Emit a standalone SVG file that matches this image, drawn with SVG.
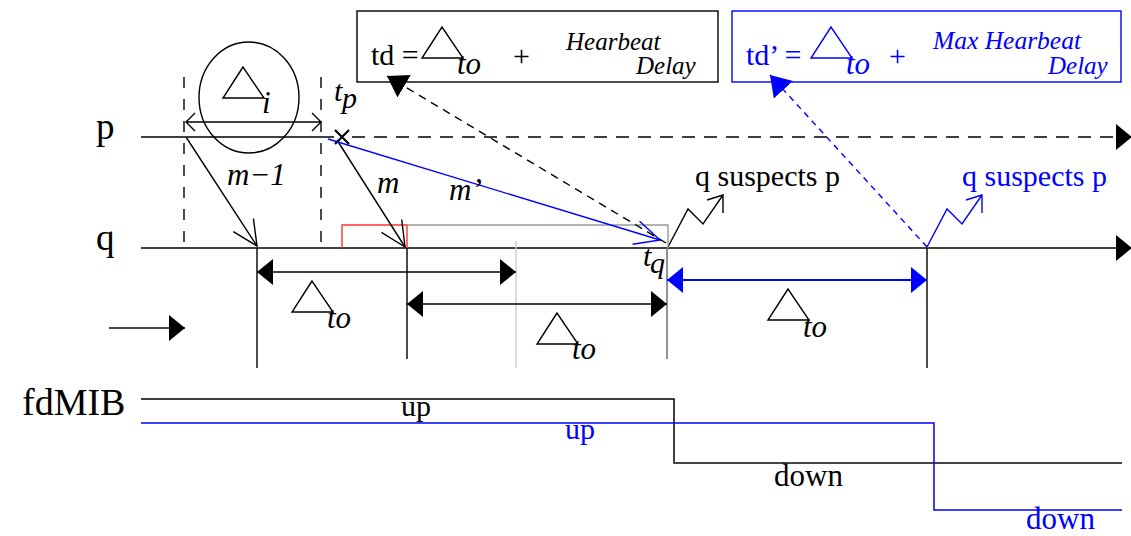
<svg xmlns="http://www.w3.org/2000/svg" xmlns:xlink="http://www.w3.org/1999/xlink" width="1131" height="536" viewBox="0 0 1131 536">
<style>
text{font-family:"Liberation Serif","Times New Roman",serif;}
.it{font-style:italic;}
.ln{fill:none;stroke:#000;stroke-width:1.4;}
.bl{fill:none;stroke:#00f;stroke-width:1.4;}
.tri{fill:none;stroke:#000;stroke-width:1.4;}
.btri{fill:none;stroke:#00f;stroke-width:1.4;}
.blt{fill:#00f;}
</style>
<defs>
<marker id="fh" viewBox="0 0 16 26" refX="16" refY="13" markerWidth="16" markerHeight="26" markerUnits="userSpaceOnUse" orient="auto-start-reverse"><path d="M0,0 L16,13 L0,26 Z" fill="#000"/></marker>
<marker id="fhb" viewBox="0 0 16 26" refX="16" refY="13" markerWidth="16" markerHeight="26" markerUnits="userSpaceOnUse" orient="auto-start-reverse"><path d="M0,0 L16,13 L0,26 Z" fill="#00f"/></marker>
<marker id="dh" viewBox="0 0 20 26" refX="20" refY="13" markerWidth="20" markerHeight="26" markerUnits="userSpaceOnUse" orient="auto"><path d="M0,0 L20,13 L0,26 Z" fill="#000"/></marker>
<marker id="dhb" viewBox="0 0 20 26" refX="20" refY="13" markerWidth="20" markerHeight="26" markerUnits="userSpaceOnUse" orient="auto"><path d="M0,0 L20,13 L0,26 Z" fill="#00f"/></marker>
<marker id="oh" viewBox="-27 -14 29 28" refX="0" refY="0" markerWidth="29" markerHeight="28" markerUnits="userSpaceOnUse" orient="auto"><path d="M-25,-12 L0,0 L-25,12" fill="none" stroke="#000" stroke-width="1.4"/></marker>
<marker id="ohb" viewBox="-27 -14 29 28" refX="0" refY="0" markerWidth="29" markerHeight="28" markerUnits="userSpaceOnUse" orient="auto"><path d="M-25,-12 L0,0 L-25,12" fill="none" stroke="#00f" stroke-width="1.4"/></marker>
<path id="tri" d="M0,0 L-20,31 L21,31 Z"/>
<path id="zig" d="M0,0 L20,-38 L35,-23 L55,-52 M39,-47 L55,-52 L55,-34"/>
</defs>

<g id="axis-p">
<text x="96" y="139" font-size="37">p</text>
<path class="ln" d="M141,137 H334"/>
<path class="ln" d="M352,137 H1116" stroke-dasharray="13,9"/>
<path d="M1116,124 L1132,137 L1116,150 Z" fill="#000"/>
</g>
<g id="axis-q">
<text x="96" y="250" font-size="37">q</text>
<path class="ln" d="M141,248 H1116"/>
<path d="M1116,235 L1132,248 L1116,261 Z" fill="#000"/>
</g>

<g id="interval-i">
<path class="ln" d="M184,77 V248 M321,77 V248" stroke-dasharray="11,11"/>
<ellipse cx="249" cy="97.5" rx="50" ry="55.5" class="ln"/>
<use xlink:href="#tri" x="243" y="67" class="tri"/>
<text x="262" y="113" font-size="31" class="it">i</text>
<path class="ln" d="M186,122 H321 M195,113 L186,122 L195,131 M312,113 L321,122 L312,131"/>
</g>

<g id="tp">
<text x="334" y="101" font-size="30" class="it">t</text>
<text x="342" y="108" font-size="30" class="it">p</text>
<path d="M335,130 L349,144 M335,144 L349,130" stroke="#000" stroke-width="2.2" fill="none"/>
</g>

<g id="box-td">
<rect x="357" y="11" width="361" height="71" class="ln"/>
<text x="371" y="65" font-size="30">td =</text>
<use xlink:href="#tri" x="442" y="27" class="tri"/>
<text x="457" y="74" font-size="31" class="it">to</text>
<text x="513" y="66" font-size="30">+</text>
<text x="566" y="50" font-size="25" class="it">Hearbeat</text>
<text x="636" y="74" font-size="25" class="it">Delay</text>
</g>

<g id="box-td2">
<rect x="732" y="11" width="389" height="71" class="bl"/>
<text x="746" y="65" font-size="30" class="blt">td’ =</text>
<use xlink:href="#tri" x="831" y="27" class="btri"/>
<text x="846" y="74" font-size="31" class="it blt">to</text>
<text x="889" y="66" font-size="30" class="blt">+</text>
<text x="933" y="49" font-size="25.5" class="it blt">Max Hearbeat</text>
<text x="1048" y="74" font-size="25" class="it blt">Delay</text>
</g>

<g id="suspect1">
<use xlink:href="#zig" x="668" y="247" fill="none" stroke="#000" stroke-width="1.4"/>
<text x="695" y="186" font-size="30">q suspects p</text>
</g>
<g id="suspect2">
<use xlink:href="#zig" x="927" y="247" fill="none" stroke="#00f" stroke-width="1.4"/>
<text x="962" y="186" font-size="30" class="blt">q suspects p</text>
</g>

<g id="tq">
<text x="643" y="266" font-size="30" class="it">t</text>
<text x="650" y="273" font-size="30" class="it">q</text>
</g>

<g id="timeouts">
<path d="M342,248 V225 H407 V248" fill="none" stroke="#f33" stroke-width="1.4"/>
<path d="M407,225 H668 V248" fill="none" stroke="#999" stroke-width="1.4"/>
<path class="ln" d="M257,248 V368 M407,248 V359 M927,248 V368"/>
<path d="M667,248 V359" stroke="#777" stroke-width="1.6" fill="none"/>
<path d="M516,241 V368" stroke="#ccc" stroke-width="1.4" fill="none"/>
<use xlink:href="#tri" x="312" y="281" class="tri"/>
<text x="327" y="328" font-size="31" class="it">to</text>
<use xlink:href="#tri" x="557" y="313" class="tri"/>
<text x="572" y="359" font-size="31" class="it">to</text>
<use xlink:href="#tri" x="788" y="289" class="tri"/>
<text x="803" y="337" font-size="31" class="it">to</text>
</g>

<g id="connectors">
<path class="ln" d="M186,137 L257,246" marker-end="url(#oh)"/>
<path class="ln" d="M337,140 L405,247" marker-end="url(#oh)"/>
<path class="bl" d="M328,139 L660,240" marker-end="url(#ohb)"/>
<path class="ln" d="M666,243 L387,76" stroke-dasharray="8,6" marker-end="url(#dh)"/>
<path class="bl" d="M927,247 L770,75" stroke-dasharray="6,5" marker-end="url(#dhb)"/>
<path class="ln" d="M257,272 H516" marker-start="url(#fh)" marker-end="url(#fh)"/>
<path class="ln" d="M407,304 H667" marker-start="url(#fh)" marker-end="url(#fh)"/>
<path d="M667,280 H927" fill="none" stroke="#00f" stroke-width="2" marker-start="url(#fhb)" marker-end="url(#fhb)"/>
<path d="M109,328 H185" fill="none" stroke="#444" stroke-width="2" marker-end="url(#fh)"/>
<text x="227" y="185" font-size="31" class="it">m−1</text>
<text x="377" y="193" font-size="31" class="it">m</text>
<text x="449" y="200" font-size="31" class="it">m’</text>
</g>

<g id="fdmib">
<text x="22" y="415" font-size="38">fdMIB</text>
<path d="M141,399 H674 V463 H1122" fill="none" stroke="#000" stroke-width="1.5"/>
<path d="M674,463 H1122" fill="none" stroke="#444" stroke-width="2"/>
<path d="M141,423 H934 V510 H1122" fill="none" stroke="#00f" stroke-width="1.5"/>
<text x="401" y="416" font-size="30">up</text>
<text x="565" y="439" font-size="30" class="blt">up</text>
<text x="774" y="486" font-size="31">down</text>
<text x="1026" y="529" font-size="31" class="blt">down</text>
</g>
</svg>
